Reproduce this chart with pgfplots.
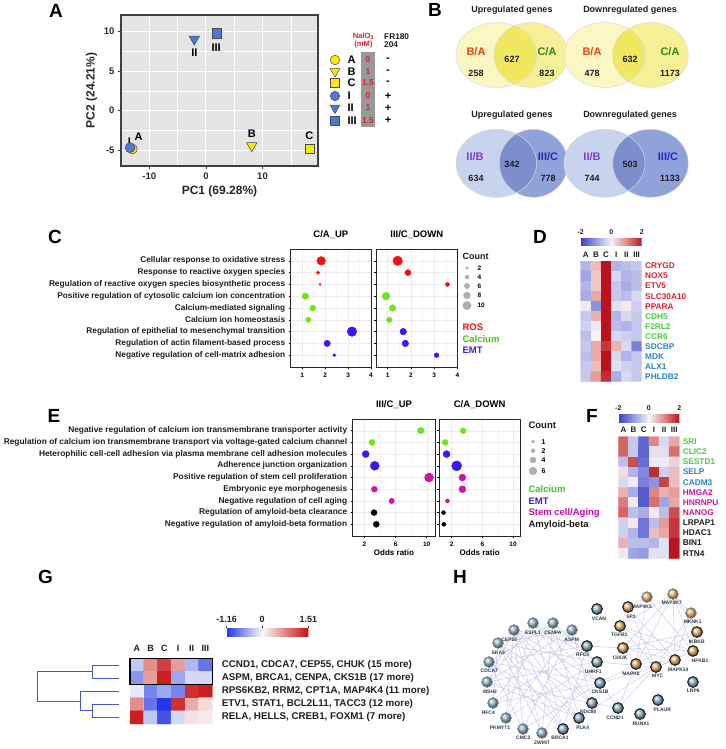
\documentclass[border=0pt]{standalone}
\usepackage{fontspec}
\setmainfont{Liberation Sans}
\usepackage{pgfplots}
\pgfplotsset{compat=1.18}
\newcommand\fs[1]{\fontsize{#1}{#1}\selectfont}
\definecolor{ayel}{RGB}{245,235,0}
\definecolor{ablu}{RGB}{80,120,210}
\definecolor{panelbg}{RGB}{229,229,229}
\definecolor{ptred}{RGB}{250,10,10}
\definecolor{ptgrn}{RGB}{110,230,30}
\definecolor{ptblu}{RGB}{55,25,245}
\definecolor{ptmag}{RGB}{205,20,165}
\definecolor{lgred}{RGB}{235,20,20}
\definecolor{lggrn}{RGB}{60,200,30}
\definecolor{lgblu}{RGB}{60,30,230}
\definecolor{lgmag}{RGB}{200,10,160}
\definecolor{hred}{RGB}{215,35,45}
\definecolor{hgrn}{RGB}{70,205,60}
\definecolor{hblu}{RGB}{40,130,200}
\definecolor{hmag}{RGB}{200,25,150}
\definecolor{vred}{RGB}{225,70,25}
\definecolor{vgrn}{RGB}{45,135,30}
\definecolor{vpur}{RGB}{130,60,210}
\definecolor{vblu}{RGB}{40,40,190}
\definecolor{vy1}{RGB}{250,247,195}
\definecolor{vy2}{RGB}{246,241,150}
\definecolor{vy3}{RGB}{240,232,95}
\definecolor{vb1}{RGB}{200,212,238}
\definecolor{vb2}{RGB}{145,162,218}
\definecolor{vb3}{RGB}{125,142,205}
\definecolor{edgec}{RGB}{200,200,232}
\definecolor{nblue}{RGB}{150,190,215}
\definecolor{norange}{RGB}{238,190,115}
\definecolor{nlab}{RGB}{45,55,75}
\definecolor{dendro}{RGB}{70,85,200}
\definecolor{mygray}{RGB}{175,175,175}
\definecolor{txt}{RGB}{30,30,30}
\pgfplotsset{
  dotaxis/.style={scale only axis, y dir=reverse, ymin=0, ymax=10, ytick={1,...,9},
    axis line style={line width=0.9pt, black!85},
    xmajorgrids, ymajorgrids, xminorgrids, minor x tick num=1,
    major grid style={gray!15, line width=0.4pt}, minor grid style={gray!7, line width=0.3pt},
    tick align=outside, major tick length=2pt, minor tick length=0pt,
    tick style={black, line width=0.5pt},
    xtick pos=left, ytick pos=left,
    tick label style={font=\bfseries\fs{6.5}},
    /pgf/number format/assume math mode=true,
    clip=false,
    title style={font=\bfseries\fs{9.5}, at={(0.5,1)}, anchor=south, yshift=1pt}},
  dots/.style={scatter, only marks, mark=*,
    scatter/use mapped color={draw=#1, fill=#1},
    visualization depends on={\thisrow{r} \as \rad},
    scatter/@pre marker code/.append style={/tikz/mark size=\rad}},
  heat/.style={scale only axis, y dir=reverse, axis line style={draw=none}, major tick length=0pt,
    xtick pos=right, xticklabel pos=right, ytick pos=right, yticklabel pos=right,
    xtick={0,...,5}, xticklabels={A,B,C,I,II,III},
    xmin=-0.5, xmax=5.5, enlargelimits=false},
}
\begin{document}
\begin{tikzpicture}
\useasboundingbox (0,0) rectangle (725pt,-749pt);

% ---------------- Panel A : PCA ----------------
\begin{axis}[at={(121pt,-166pt)}, anchor=south west, scale only axis, width=197pt, height=151pt,
  xmin=-15, xmax=19.8, ymin=-7, ymax=12.1,
  axis background/.style={fill=panelbg},
  axis line style={line width=1.1pt, black!75},
  xtick={-10,0,10,20}, ytick={-5,0,5,10},
  minor x tick num=1, minor y tick num=1,
  grid=both, major grid style={white, line width=1pt}, minor grid style={white, line width=0.5pt},
  tick align=outside, major tick length=3pt, minor tick length=0pt, tick style={black!75, line width=0.7pt},
  xtick pos=left, ytick pos=left,
  tick label style={font=\bfseries\fs{9.5}, text=black!85},
  /pgf/number format/assume math mode=true,
  xlabel={PC1 (69.28\%)}, ylabel={PC2 (24.21\%)},
  label style={font=\bfseries\fs{12}, text=black!85},
  clip=false]
\addplot[only marks, mark=*, mark size=5pt, mark options={fill=ayel, draw=black!70, line width=0.5pt}] coordinates {(-13.0,-4.85)};
\addplot[only marks, mark=*, mark size=5pt, mark options={fill=ablu, draw=black!70, line width=0.5pt}] coordinates {(-13.4,-4.68)};
\addplot[only marks, mark=triangle*, mark size=6pt, mark options={rotate=180, fill=ayel, draw=black!70, line width=0.5pt}] coordinates {(8.1,-4.43)};
\addplot[only marks, mark=square*, mark size=4.6pt, mark options={fill=ayel, draw=black!70, line width=0.5pt}] coordinates {(18.27,-4.85)};
\addplot[only marks, mark=triangle*, mark size=6pt, mark options={rotate=180, fill=ablu, draw=black!70, line width=0.5pt}] coordinates {(-2.05,9.04)};
\addplot[only marks, mark=square*, mark size=4.6pt, mark options={fill=ablu, draw=black!70, line width=0.5pt}] coordinates {(1.9,9.8)};
\node[font=\bfseries\fs{11}] at (axis cs:-13.5,-3.9) {I};
\node[font=\bfseries\fs{11}] at (axis cs:-11.9,-3.3) {A};
\node[font=\bfseries\fs{11}] at (axis cs:-2.05,7.27) {II};
\node[font=\bfseries\fs{11}] at (axis cs:1.8,8.0) {III};
\node[font=\bfseries\fs{11}] at (axis cs:8.1,-2.95) {B};
\node[font=\bfseries\fs{11}] at (axis cs:18.27,-3.2) {C};
\end{axis}

% ---------------- Panel C : dot plots ----------------
\begin{axis}[dotaxis, at={(290.7pt,-367pt)}, anchor=south west, width=80.3pt, height=118pt,
  xmin=0.5, xmax=4, xtick={1,2,3,4}, title={C/A\_UP},
  yticklabels={Cellular response to oxidative stress, Response to reactive oxygen species, Regulation of reactive oxygen species biosynthetic process, Positive regulation of cytosolic calcium ion concentration, Calcium-mediated signaling, Calcium ion homeostasis, Regulation of epithelial to mesenchymal transition, Regulation of actin filament-based process, Negative regulation of cell-matrix adhesion},
  yticklabel style={font=\bfseries\fs{8.3}, text=txt}]
\addplot[dots=ptred] table {
x y r
1.83 1 4.3
1.69 2 1.8
1.78 3 1.0
};
\addplot[dots=ptgrn] table {
x y r
1.14 4 3.3
1.46 5 2.9
1.27 6 2.6
};
\addplot[dots=ptblu] table {
x y r
3.17 7 4.8
2.09 8 3.2
2.40 9 1.5
};
\end{axis}
\begin{axis}[dotaxis, at={(376pt,-367pt)}, anchor=south west, width=81.5pt, height=118pt,
  xmin=0.5, xmax=4, xtick={1,2,3,4}, title={III/C\_DOWN}, yticklabels={}]
\addplot[dots=ptred] table {
x y r
1.43 1 4.7
1.87 2 3.0
3.57 3 2.0
};
\addplot[dots=ptgrn] table {
x y r
0.93 4 3.9
1.21 5 3.3
1.07 6 2.8
};
\addplot[dots=ptblu] table {
x y r
1.67 7 3.3
1.76 8 3.3
3.10 9 2.4
};
\end{axis}

% ---------------- Panel E : dot plots ----------------
\begin{axis}[dotaxis, at={(352.7pt,-536pt)}, anchor=south west, width=82.6pt, height=117pt,
  xmin=0.5, xmax=11.1, xtick={2,6,10}, title={III/C\_UP}, xlabel={Odds ratio},
  xlabel style={font=\bfseries\fs{8}, yshift=3pt},
  yticklabels={Negative regulation of calcium ion transmembrane transporter activity, Regulation of calcium ion transmembrane transport via voltage-gated calcium channel, Heterophilic cell-cell adhesion via plasma membrane cell adhesion molecules, Adherence junction organization, Positive regulation of stem cell proliferation, Embryonic eye morphogenesis, Negative regulation of cell aging, Regulation of amyloid-beta clearance, Negative regulation of amyloid-beta formation},
  yticklabel style={font=\bfseries\fs{8.35}, text=txt}]
\addplot[dots=ptgrn] table {
x y r
9.24 1 3.3
2.98 2 3.0
};
\addplot[dots=ptblu] table {
x y r
2.17 3 3.5
3.33 4 4.5
};
\addplot[dots=ptmag] table {
x y r
10.3 5 4.5
3.28 6 3.0
5.5 7 2.7
};
\addplot[dots=black] table {
x y r
3.24 8 3.0
3.53 9 3.0
};
\end{axis}
\begin{axis}[dotaxis, at={(439.3pt,-536pt)}, anchor=south west, width=80.7pt, height=117pt,
  xmin=0.4, xmax=10.9, xtick={2,6,10}, title={C/A\_DOWN}, xlabel={Odds ratio},
  xlabel style={font=\bfseries\fs{8}, yshift=3pt}, yticklabels={}]
\addplot[dots=ptgrn] table {
x y r
3.5 1 3.0
1.16 2 3.0
};
\addplot[dots=ptblu] table {
x y r
1.34 3 3.5
2.66 4 5.0
};
\addplot[dots=ptmag] table {
x y r
3.4 5 3.5
3.4 6 3.5
1.47 7 2.0
};
\addplot[dots=black] table {
x y r
0.95 8 2.0
0.99 9 2.0
};
\end{axis}

% ---------------- Panel D : heatmap ----------------
\begin{axis}[heat, at={(580.7pt,-261pt)}, anchor=north west, width=61pt, height=120.7pt,
  ymin=-0.5, ymax=11.5, ytick={0,...,11},
  yticklabels={\textcolor{hred}{CRYGD}, \textcolor{hred}{NOX5}, \textcolor{hred}{ETV5}, \textcolor{hred}{SLC30A10}, \textcolor{hred}{PPARA}, \textcolor{hgrn}{CDH5}, \textcolor{hgrn}{F2RL2}, \textcolor{hgrn}{CCR6}, \textcolor{hblu}{SDCBP}, \textcolor{hblu}{MDK}, \textcolor{hblu}{ALX1}, \textcolor{hblu}{PHLDB2}},
  xticklabel style={font=\bfseries\fs{8}, text=txt}, yticklabel style={font=\bfseries\fs{8.3}},
  colormap={bwr}{rgb255=(55,65,195) rgb255=(150,155,225) rgb255=(245,243,248) rgb255=(225,135,130) rgb255=(185,20,30)},
  point meta min=-2, point meta max=2,
  colorbar horizontal,
  colorbar style={at={(parent axis.north west)}, anchor=south west, yshift=24.5pt, scale only axis, width=61pt, height=7pt,
    xtick={-2,0,2}, xticklabels={-2,0,2}, xtick pos=right, xticklabel pos=right, major tick length=0pt,
    xticklabel style={font=\bfseries\fs{7}, text=txt}, axis line style={draw=none}}]
\addplot[matrix plot*, mesh/cols=6, point meta=explicit] table[meta=c] {
x y c
0 0 -0.7
1 0 0.5
2 0 2.0
3 0 -0.7
4 0 -0.6
5 0 -0.5
0 1 -0.9
1 1 0.4
2 1 2.0
3 1 -0.3
4 1 -0.7
5 1 -0.6
0 2 -0.7
1 2 0.4
2 2 2.0
3 2 -0.5
4 2 -0.8
5 2 -0.6
0 3 -0.8
1 3 0.7
2 3 2.0
3 3 -0.5
4 3 -0.6
5 3 -0.3
0 4 0.1
1 4 -1.1
2 4 2.0
3 4 -0.2
4 4 0.1
5 4 -0.4
0 5 -0.5
1 5 0.6
2 5 2.0
3 5 -0.7
4 5 -0.3
5 5 -0.5
0 6 -0.4
1 6 -0.1
2 6 2.0
3 6 -0.6
4 6 -0.7
5 6 -0.5
0 7 -0.6
1 7 0.0
2 7 2.0
3 7 -0.3
4 7 -0.4
5 7 -0.5
0 8 -0.5
1 8 0.7
2 8 1.7
3 8 0.6
4 8 -0.3
5 8 -1.3
0 9 -0.6
1 9 0.7
2 9 2.0
3 9 -0.3
4 9 -0.7
5 9 -0.5
0 10 -0.5
1 10 0.5
2 10 2.0
3 10 -0.2
4 10 -0.4
5 10 -0.5
0 11 -0.5
1 11 0.8
2 11 1.8
3 11 -0.8
4 11 -0.3
5 11 -0.5
};
\end{axis}

% ---------------- Panel F : heatmap ----------------
\begin{axis}[heat, at={(618.3pt,-436.5pt)}, anchor=north west, width=61pt, height=121.8pt,
  ymin=-0.5, ymax=11.5, ytick={0,...,11},
  yticklabels={\textcolor{hgrn}{SRI}, \textcolor{hgrn}{CLIC2}, \textcolor{hgrn}{SESTD1}, \textcolor{hblu}{SELP}, \textcolor{hblu}{CADM3}, \textcolor{hmag}{HMGA2}, \textcolor{hmag}{HNRNPU}, \textcolor{hmag}{NANOG}, \textcolor{txt}{LRPAP1}, \textcolor{txt}{HDAC1}, \textcolor{txt}{BIN1}, \textcolor{txt}{RTN4}},
  xticklabel style={font=\bfseries\fs{8}, text=txt}, yticklabel style={font=\bfseries\fs{8.3}},
  colormap={bwr}{rgb255=(55,65,195) rgb255=(150,155,225) rgb255=(245,243,248) rgb255=(225,135,130) rgb255=(185,20,30)},
  point meta min=-2, point meta max=2,
  colorbar horizontal,
  colorbar style={at={(parent axis.north west)}, anchor=south west, yshift=22.3pt, scale only axis, width=61pt, height=8.7pt,
    xtick={-2,0,2}, xticklabels={-2,0,2}, xtick pos=right, xticklabel pos=right, major tick length=0pt,
    xticklabel style={font=\bfseries\fs{7}, text=txt}, axis line style={draw=none}}]
\addplot[matrix plot*, mesh/cols=6, point meta=explicit] table[meta=c] {
x y c
0 0 1.3
1 0 -0.5
2 0 -1.6
3 0 1.0
4 0 -0.3
5 0 0.7
0 1 1.3
1 1 -0.5
2 1 -1.6
3 1 -0.2
4 1 -0.2
5 1 1.2
0 2 -0.6
1 2 1.5
2 2 -1.5
3 2 -0.1
4 2 -0.1
5 2 0.3
0 3 0.2
1 3 -0.7
2 3 -1.2
3 3 1.8
4 3 -0.4
5 3 0.5
0 4 -0.3
1 4 -0.1
2 4 -1.3
3 4 -1.1
4 4 1.6
5 4 0.5
0 5 0.6
1 5 -0.8
2 5 -1.7
3 5 1.0
4 5 0.6
5 5 0.8
0 6 1.1
1 6 0.1
2 6 -1.7
3 6 1.2
4 6 -0.9
5 6 0.7
0 7 1.3
1 7 -0.6
2 7 -0.8
3 7 0.1
4 7 -0.6
5 7 1.5
0 8 -0.4
1 8 0.1
2 8 -1.4
3 8 -0.6
4 8 0.8
5 8 1.7
0 9 -0.4
1 9 -0.7
2 9 -1.4
3 9 0.5
4 9 0.7
5 9 1.7
0 10 0.6
1 10 -0.6
2 10 -0.6
3 10 -0.7
4 10 -0.2
5 10 2.0
0 11 0.1
1 11 -0.9
2 11 -1.0
3 11 -0.2
4 11 -0.2
5 11 2.0
};
\end{axis}

% ---------------- Panel G : cluster heatmap ----------------
\begin{axis}[heat, at={(130pt,-658.3pt)}, anchor=north west, width=82.3pt, height=65.7pt,
  ymin=-0.5, ymax=4.5, ytick={0,...,4},
  yticklabels={{CCND1, CDCA7, CEP55, CHUK (15 more)}, {ASPM, BRCA1, CENPA, CKS1B (17 more)}, {RPS6KB2, RRM2, CPT1A, MAP4K4 (11 more)}, {ETV1, STAT1, BCL2L11, TACC3 (12 more)}, {RELA, HELLS, CREB1, FOXM1 (7 more)}},
  xticklabel style={font=\bfseries\fs{9}, text=txt, yshift=3pt}, yticklabel style={font=\bfseries\fs{9.8}, text=txt, xshift=6pt},
  colormap={gmap}{rgb255(0cm)=(35,55,230) rgb255(1.16cm)=(250,250,250) rgb255(2.67cm)=(200,15,15)},
  point meta min=-1.16, point meta max=1.51,
  colorbar horizontal,
  colorbar style={at={(parent axis.north west)}, anchor=south west, xshift=96.7pt, yshift=30pt, scale only axis, width=81.6pt, height=8.4pt,
    xtick={-1.16,0,1.51}, xticklabels={-1.16,0,1.51}, xtick pos=right, xticklabel pos=right,
    tick align=outside, major tick length=2.5pt, xtick style={black!80, line width=0.5pt},
    xticklabel style={font=\bfseries\fs{9}, text=txt}, axis line style={draw=none}}]
\addplot[matrix plot*, mesh/cols=6, point meta=explicit] table[meta=c] {
x y c
0 0 -0.3
1 0 0.7
2 0 1.2
3 0 0.6
4 0 -0.4
5 0 -0.8
0 1 -0.6
1 1 0.6
2 1 1.4
3 1 -0.5
4 1 -0.2
5 1 -0.2
0 2 -0.1
1 2 -0.7
2 2 -0.5
3 2 -0.7
4 2 1.3
5 2 1.4
0 3 0.7
1 3 -0.8
2 3 -1.16
3 3 1.3
4 3 0.5
5 3 0.2
0 4 1.4
1 4 -0.3
2 4 -1.0
3 4 -0.2
4 4 0.15
5 4 0.1
};
\end{axis}

% ---------------- Overlay (page coordinates) ----------------
\begin{axis}[at={(0pt,0pt)}, anchor=north west, scale only axis, width=725pt, height=749pt,
  xmin=0, xmax=725, ymin=0, ymax=749, y dir=reverse, hide axis, clip=false]
% panel letters
\node[font=\bfseries\fs{19}] at (56,11) {A};
\node[font=\bfseries\fs{19}] at (435,10) {B};
\node[font=\bfseries\fs{19}] at (55,236.5) {C};
\node[font=\bfseries\fs{19}] at (540,237) {D};
\node[font=\bfseries\fs{19}] at (54,416) {E};
\node[font=\bfseries\fs{19}] at (592,416) {F};
\node[font=\bfseries\fs{19}] at (45.5,577) {G};
\node[font=\bfseries\fs{19}] at (460,577) {H};

% legend of A
\addplot[only marks, mark=*, mark size=4.8pt, mark options={fill=ayel, draw=black!70, line width=0.5pt}] coordinates {(335,60)};
\addplot[only marks, mark=triangle*, mark size=5.6pt, mark options={rotate=180, fill=ayel, draw=black!70, line width=0.5pt}] coordinates {(335,71.5)};
\addplot[only marks, mark=square*, mark size=4.3pt, mark options={fill=ayel, draw=black!70, line width=0.5pt}] coordinates {(335,83)};
\addplot[only marks, mark=*, mark size=4.8pt, mark options={fill=ablu, draw=black!70, line width=0.5pt}] coordinates {(335,96)};
\addplot[only marks, mark=triangle*, mark size=5.6pt, mark options={rotate=180, fill=ablu, draw=black!70, line width=0.5pt}] coordinates {(335,108)};
\addplot[only marks, mark=square*, mark size=4.3pt, mark options={fill=ablu, draw=black!70, line width=0.5pt}] coordinates {(335,120.5)};
\node[font=\bfseries\fs{11}, anchor=west] at (344,60) {A};
\node[font=\bfseries\fs{11}, anchor=west] at (344,71.5) {B};
\node[font=\bfseries\fs{11}, anchor=west] at (344,83) {C};
\node[font=\bfseries\fs{11}, anchor=west] at (344,96) {I};
\node[font=\bfseries\fs{11}, anchor=west] at (344,108) {II};
\node[font=\bfseries\fs{11}, anchor=west] at (344,120.5) {III};
\fill[black!40] (361,52) rectangle (375,127);
\node[font=\bfseries\fs{8.5}, text=hred] at (368,60) {0};
\node[font=\bfseries\fs{8.5}, text=hred] at (368,71.5) {1};
\node[font=\bfseries\fs{8.5}, text=hred] at (368,83) {1.5};
\node[font=\bfseries\fs{8.5}, text=hred] at (368,96) {0};
\node[font=\bfseries\fs{8.5}, text=hred] at (368,108) {1};
\node[font=\bfseries\fs{8.5}, text=hred] at (368,120.5) {1.5};
\node[font=\bfseries\fs{7.6}, text=hred, align=center, inner sep=0pt] at (363.5,40.5) {NaIO\textsubscript{3}\\[0pt](mM)};
\node[font=\bfseries\fs{8.3}, text=txt, align=left, anchor=west, inner sep=0pt] at (384,40.5) {FR180\\[0pt]204};
\node[font=\bfseries\fs{11}] at (388,60) {-};
\node[font=\bfseries\fs{11}] at (388,71.5) {-};
\node[font=\bfseries\fs{11}] at (388,83) {-};
\node[font=\bfseries\fs{11}] at (388,96) {+};
\node[font=\bfseries\fs{11}] at (388,108) {+};
\node[font=\bfseries\fs{11}] at (388,120.5) {+};

% Venn diagrams (B)
\fill[vy1] (496.3,55) ellipse [x radius=40.3pt, y radius=32.5pt];
\fill[vy2] (530.8,55) ellipse [x radius=36.8pt, y radius=32.5pt];
\begin{scope}\clip (496.3,55) ellipse [x radius=40.3pt, y radius=32.5pt];
\fill[vy3] (530.8,55) ellipse [x radius=36.8pt, y radius=32.5pt];\end{scope}
\draw[black!15, line width=0.5pt] (496.3,55) ellipse [x radius=40.3pt, y radius=32.5pt] (530.8,55) ellipse [x radius=36.8pt, y radius=32.5pt];
\fill[vy1] (604.5,55) ellipse [x radius=40.5pt, y radius=32.5pt];
\fill[vy2] (650.5,55) ellipse [x radius=37.8pt, y radius=32.5pt];
\begin{scope}\clip (604.5,55) ellipse [x radius=40.5pt, y radius=32.5pt];
\fill[vy3] (650.5,55) ellipse [x radius=37.8pt, y radius=32.5pt];\end{scope}
\draw[black!15, line width=0.5pt] (604.5,55) ellipse [x radius=40.5pt, y radius=32.5pt] (650.5,55) ellipse [x radius=37.8pt, y radius=32.5pt];
\fill[vb1] (496.3,163.3) ellipse [x radius=40.3pt, y radius=34pt];
\fill[vb2] (533.5,163.3) ellipse [x radius=34.2pt, y radius=34pt];
\begin{scope}\clip (496.3,163.3) ellipse [x radius=40.3pt, y radius=34pt];
\fill[vb3] (533.5,163.3) ellipse [x radius=34.2pt, y radius=34pt];\end{scope}
\draw[black!15, line width=0.5pt] (496.3,163.3) ellipse [x radius=40.3pt, y radius=34pt] (533.5,163.3) ellipse [x radius=34.2pt, y radius=34pt];
\fill[vb1] (604.5,163.3) ellipse [x radius=40.5pt, y radius=34pt];
\fill[vb2] (650.5,163.3) ellipse [x radius=37.8pt, y radius=34pt];
\begin{scope}\clip (604.5,163.3) ellipse [x radius=40.5pt, y radius=34pt];
\fill[vb3] (650.5,163.3) ellipse [x radius=37.8pt, y radius=34pt];\end{scope}
\draw[black!15, line width=0.5pt] (604.5,163.3) ellipse [x radius=40.5pt, y radius=34pt] (650.5,163.3) ellipse [x radius=37.8pt, y radius=34pt];
\node[font=\bfseries\fs{9}, text=txt] at (512,10) {Upregulated genes};
\node[font=\bfseries\fs{9}, text=txt] at (630,10) {Downregulated genes};
\node[font=\bfseries\fs{9}, text=txt] at (512,115) {Upregulated genes};
\node[font=\bfseries\fs{9}, text=txt] at (630,115) {Downregulated genes};
\node[font=\bfseries\fs{11}, text=vred] at (476,52) {B/A};
\node[font=\bfseries\fs{11}, text=vgrn] at (547,52) {C/A};
\node[font=\bfseries\fs{9}, text=txt] at (512,59) {627};
\node[font=\bfseries\fs{9}, text=txt] at (476,73) {258};
\node[font=\bfseries\fs{9}, text=txt] at (547,73) {823};
\node[font=\bfseries\fs{11}, text=vred] at (592,52) {B/A};
\node[font=\bfseries\fs{11}, text=vgrn] at (670,52) {C/A};
\node[font=\bfseries\fs{9}, text=txt] at (630,59) {632};
\node[font=\bfseries\fs{9}, text=txt] at (592,73) {478};
\node[font=\bfseries\fs{9}, text=txt] at (670,73) {1173};
\node[font=\bfseries\fs{11}, text=vpur] at (475,157) {II/B};
\node[font=\bfseries\fs{11}, text=vblu] at (548,157) {III/C};
\node[font=\bfseries\fs{9}, text=txt] at (512,164) {342};
\node[font=\bfseries\fs{9}, text=txt] at (476,178) {634};
\node[font=\bfseries\fs{9}, text=txt] at (548,178) {778};
\node[font=\bfseries\fs{11}, text=vpur] at (592,157) {II/B};
\node[font=\bfseries\fs{11}, text=vblu] at (668,157) {III/C};
\node[font=\bfseries\fs{9}, text=txt] at (630,164) {503};
\node[font=\bfseries\fs{9}, text=txt] at (592,178) {744};
\node[font=\bfseries\fs{9}, text=txt] at (670,178) {1133};

% legend of C
\node[font=\bfseries\fs{9}, text=txt, anchor=west] at (459,256) {Count};
\addplot[dots=mygray] table {
x y r
467 268 1.3
467 277 2.0
467 286 2.7
467 295.5 3.4
467 305.5 4.2
};
\node[font=\bfseries\fs{6.5}, anchor=west] at (474,268) {2};
\node[font=\bfseries\fs{6.5}, anchor=west] at (474,277) {4};
\node[font=\bfseries\fs{6.5}, anchor=west] at (474,286) {6};
\node[font=\bfseries\fs{6.5}, anchor=west] at (474,295.5) {8};
\node[font=\bfseries\fs{6.5}, anchor=west] at (474,305.5) {10};
\node[font=\bfseries\fs{9.5}, text=lgred, anchor=west] at (459,327) {ROS};
\node[font=\bfseries\fs{9.5}, text=lggrn, anchor=west] at (459,339) {Calcium};
\node[font=\bfseries\fs{9.5}, text=lgblu, anchor=west] at (459,350.5) {EMT};

% legend of E
\node[font=\bfseries\fs{9.5}, text=txt, anchor=west] at (525,425) {Count};
\addplot[dots=mygray] table {
x y r
533 441.7 1.5
533 450.7 2.0
533 460 3.0
533 471 3.9
};
\node[font=\bfseries\fs{7}, anchor=west] at (538,441.7) {1};
\node[font=\bfseries\fs{7}, anchor=west] at (538,450.7) {2};
\node[font=\bfseries\fs{7}, anchor=west] at (538,460) {4};
\node[font=\bfseries\fs{7}, anchor=west] at (538,471) {6};
\node[font=\bfseries\fs{9.5}, text=lggrn, anchor=west] at (525,489.3) {Calcium};
\node[font=\bfseries\fs{9.5}, text=lgblu, anchor=west] at (525,501) {EMT};
\node[font=\bfseries\fs{9.5}, text=lgmag, anchor=west] at (525,513) {Stem cell/Aging};
\node[font=\bfseries\fs{9.5}, text=txt, anchor=west] at (525,524.7) {Amyloid-beta};

% dendrogram (G)
\addplot[dendro, line width=0.8pt, mark=none] coordinates {(119.3,664.9) (92.3,664.9) (92.3,678) (119.3,678)};
\addplot[dendro, line width=0.8pt, mark=none] coordinates {(119.3,704.2) (92,704.2) (92,717.3) (119.3,717.3)};
\addplot[dendro, line width=0.8pt, mark=none] coordinates {(119.3,691.1) (80,691.1) (80,710.7) (92,710.7)};
\addplot[dendro, line width=0.8pt, mark=none] coordinates {(92.3,671.5) (37.3,671.5) (37.3,700.9) (80,700.9)};
\draw[black, line width=1.3pt] (130,658.3) rectangle (212.3,684.5);

% network (H): edges
\addplot[edgec, line width=0.45pt, mark=none, unbounded coords=jump] table[row sep=\\] {
x y\\
533 623\\563 729\\nan nan\\533 623\\592 703\\nan nan\\533 623\\600 683\\nan nan\\533 623\\506 718\\nan nan\\
533 623\\487 682\\nan nan\\553 623\\542 733\\nan nan\\553 623\\493 703\\nan nan\\553 623\\489 662\\nan nan\\
553 623\\579 718\\nan nan\\553 623\\597 662\\nan nan\\572 630\\523 729\\nan nan\\572 630\\487 682\\nan nan\\
572 630\\498 643\\nan nan\\572 630\\592 703\\nan nan\\572 630\\506 718\\nan nan\\587 646\\489 662\\nan nan\\
587 646\\493 703\\nan nan\\587 646\\514 630\\nan nan\\587 646\\563 729\\nan nan\\597 662\\487 682\\nan nan\\
597 662\\498 643\\nan nan\\597 662\\506 718\\nan nan\\597 662\\542 733\\nan nan\\600 683\\489 662\\nan nan\\
600 683\\514 630\\nan nan\\600 683\\493 703\\nan nan\\600 683\\523 729\\nan nan\\592 703\\498 643\\nan nan\\
592 703\\487 682\\nan nan\\592 703\\514 630\\nan nan\\579 718\\514 630\\nan nan\\579 718\\489 662\\nan nan\\
579 718\\498 643\\nan nan\\563 729\\498 643\\nan nan\\563 729\\514 630\\nan nan\\563 729\\489 662\\nan nan\\
542 733\\514 630\\nan nan\\542 733\\498 643\\nan nan\\523 729\\514 630\\nan nan\\523 729\\489 662\\nan nan\\
506 718\\514 630\\nan nan\\493 703\\498 643\\nan nan\\487 682\\514 630\\nan nan\\533 623\\597 662\\nan nan\\
487 682\\579 718\\nan nan\\
600 683\\618 708\\nan nan\\600 683\\656 667\\nan nan\\597 662\\656 667\\nan nan\\592 703\\618 708\\nan nan\\
579 718\\656 667\\nan nan\\618 708\\656 667\\nan nan\\618 708\\636 664\\nan nan\\623 648\\697 632\\nan nan\\
623 648\\693 651\\nan nan\\623 648\\636 664\\nan nan\\623 648\\673 594\\nan nan\\623 648\\675 660\\nan nan\\
620 626\\673 594\\nan nan\\620 626\\675 660\\nan nan\\620 626\\656 667\\nan nan\\620 626\\628 607\\nan nan\\
620 626\\693 651\\nan nan\\628 607\\656 667\\nan nan\\628 607\\675 660\\nan nan\\628 607\\647 597\\nan nan\\
647 597\\636 664\\nan nan\\647 597\\693 651\\nan nan\\673 594\\636 664\\nan nan\\673 594\\675 660\\nan nan\\
673 594\\697 632\\nan nan\\673 594\\693 651\\nan nan\\673 594\\691 613\\nan nan\\691 613\\675 660\\nan nan\\
691 613\\656 667\\nan nan\\697 632\\693 651\\nan nan\\693 651\\656 667\\nan nan\\675 660\\656 667\\nan nan\\
636 664\\675 660\\nan nan\\587 646\\623 648\\nan nan\\600 683\\636 664\\nan nan\\697 632\\636 664\\
};
% nodes
\addplot[only marks, mark=ball, mark size=5.3pt, mark options={ball color=nblue}] coordinates {
(533,623) (553,623) (572,630) (514,630) (498,643) (489,662) (487,682) (493,703) (506,718) (523,729) (542,733)
(563,729) (579,718) (592,703) (600,683) (597,662) (587,646) (597,609) (618,708) (640,714) (658,700) (693,682)};
\addplot[only marks, mark=ball, mark size=5.3pt, mark options={ball color=norange}] coordinates {
(647,597) (673,594) (691,613) (628,607) (620,626) (697,632) (693,651) (675,660) (656,667) (636,664) (623,648)};
\addplot[only marks, mark=o, mark size=5.3pt, mark options={draw=gray!60, line width=0.4pt}] coordinates {
(533,623) (553,623) (572,630) (514,630) (498,643) (489,662) (487,682) (493,703) (506,718) (523,729) (542,733)
(647,597) (673,594) (691,613)};
\addplot[only marks, mark=o, mark size=5.3pt, mark options={draw=black!85, line width=1pt}] coordinates {
(563,729) (579,718) (592,703) (600,683) (597,662) (587,646) (597,609) (618,708) (640,714) (658,700) (693,682)
(628,607) (620,626) (697,632) (693,651) (675,660) (656,667) (636,664) (623,648)};
% node labels
\begin{scope}[every node/.style={font=\bfseries\fs{5}, text=nlab, inner sep=0pt}]
\node at (533,632.7) {ESPL1};
\node at (553,632.7) {CENPA};
\node at (571.7,639.3) {ASPM};
\node at (509.3,639.3) {CEP55};
\node at (498.3,652.7) {SKA3};
\node at (489.3,671) {CDCA7};
\node at (490,691.7) {MSH2};
\node at (488.3,712.3) {RFC4};
\node at (500,727.3) {PKMYT1};
\node at (523.3,737.7) {CMC2};
\node at (542,742.3) {ZWINT};
\node at (560,737.7) {BRCA1};
\node at (582.7,727.3) {PLK4};
\node at (588.3,711.5) {NDC80};
\node at (600,691.7) {CKS1B};
\node at (593.3,671.7) {UHRF1};
\node at (582.7,654.3) {RFC5};
\node at (599,619) {VCAN};
\node at (641.7,606.7) {MAP4K5};
\node at (631,616.7) {SP1};
\node at (671.7,602.3) {MAP3K7};
\node at (619.3,635) {TGFB1};
\node at (692.7,621.7) {MKNK1};
\node at (696.7,641.7) {IKBKB};
\node at (700,661) {NFKB1};
\node at (678.3,670) {MAPK14};
\node at (657.7,676) {MYC};
\node at (631,673.3) {MAPK8};
\node at (620,657.3) {CHUK};
\node at (615,717.7) {CCND1};
\node at (641,724) {RUNX1};
\node at (662.3,709.7) {PLAUR};
\node at (693.3,690.3) {LRP6};
\end{scope}
\end{axis}
\end{tikzpicture}
\end{document}
